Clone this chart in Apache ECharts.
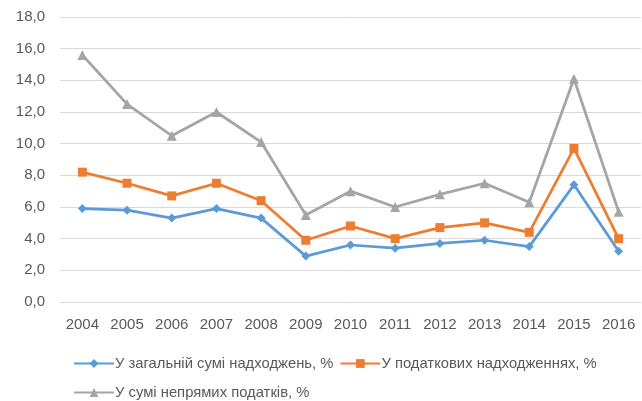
<!DOCTYPE html>
<html><head><meta charset="utf-8">
<script src="https://cdn.jsdelivr.net/npm/echarts@6/dist/echarts.min.js"></script>
<style>html,body{margin:0;padding:0;background:#fff}#c{width:642px;height:401px}</style>
</head><body><div id="c"></div>
<script>
var years = ['2004','2005','2006','2007','2008','2009','2010','2011','2012','2013','2014','2015','2016'];
var seriesNames = ['У загальній сумі надходжень, %','У податкових надходженнях, %','У сумі непрямих податків, %'];
var totalRevenue = [5.9,5.8,5.3,5.9,5.3,2.9,3.6,3.4,3.7,3.9,3.5,7.4,3.2];
var taxRevenue = [8.2,7.5,6.7,7.5,6.4,3.9,4.8,4.0,4.7,5.0,4.4,9.7,4.0];
var indirectTaxes = [15.6,12.5,10.5,12.0,10.1,5.5,7.0,6.0,6.8,7.5,6.3,14.1,5.7];
var font = 'Liberation Sans';
var chart = echarts.init(document.getElementById('c'));
function mk(name, data, color, symbol, size){
  return {name:name,type:'line',data:data,symbol:symbol,symbolSize:size,
    lineStyle:{color:color,width:2.75},itemStyle:{color:color},animation:false};
}
var legText = {fontFamily:font,fontSize:14.8,color:'#595959',padding:[0,0,0,-4]};
chart.setOption({
  animation:false,
  textStyle:{fontFamily:font},
  grid:{left:60,right:1,top:17,bottom:99},
  legend:[{data:[seriesNames[0],seriesNames[1]],left:68,top:351,itemWidth:40,itemHeight:11,itemGap:6,
    textStyle:legText},
    {data:[seriesNames[2]],left:68,top:380,itemWidth:40,itemHeight:11,
    textStyle:legText}],
  xAxis:{type:'category',data:years,boundaryGap:true,
    axisLine:{lineStyle:{color:'#D9D9D9'}},axisTick:{show:false},
    axisLabel:{color:'#595959',fontSize:15,fontFamily:font,margin:15}},
  yAxis:{type:'value',min:0,max:18,interval:2,
    axisLine:{show:false},axisTick:{show:false},
    splitLine:{lineStyle:{color:'#D9D9D9',width:1}},
    axisLabel:{color:'#595959',fontSize:15,fontFamily:font,margin:15,
      formatter:function(v){return v.toFixed(1).replace('.',',');}}},
  series:[mk(seriesNames[0],totalRevenue,'#5B9BD5','diamond',9),
          mk(seriesNames[1],taxRevenue,'#ED7D31','rect',9),
          mk(seriesNames[2],indirectTaxes,'#A5A5A5','triangle',10)]
});
</script></body></html>
